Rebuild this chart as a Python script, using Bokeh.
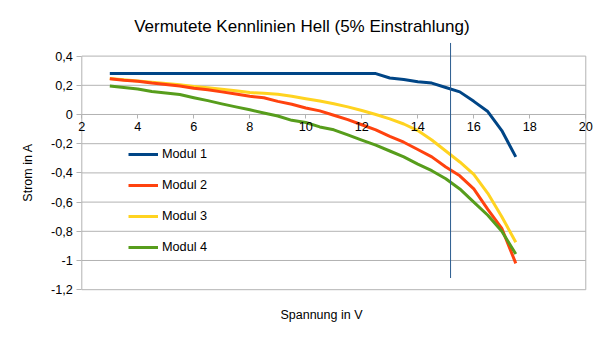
from bokeh.plotting import figure
from bokeh.models import (Range1d, FixedTicker, CustomJSTickFormatter, Legend, LegendItem, Label)
from bokeh.embed import file_html
from bokeh.resources import INLINE
import math

# ---- data ----
spannung = [3, 3.5, 4, 4.5, 5, 5.5, 6, 6.5, 7, 7.5, 8, 8.5, 9, 9.5, 10,
            10.5, 11, 11.5, 12, 12.5, 13, 13.5, 14, 14.5, 15, 15.5, 16, 16.5, 17, 17.5]
modul1 = [0.28, 0.28, 0.28, 0.28, 0.28, 0.28, 0.28, 0.28, 0.28, 0.28, 0.28, 0.28, 0.28, 0.28, 0.28,
          0.28, 0.28, 0.28, 0.28, 0.28, 0.25, 0.24, 0.225, 0.215, 0.185, 0.155, 0.09, 0.02, -0.11, -0.29]
modul2 = [0.245, 0.235, 0.228, 0.215, 0.205, 0.195, 0.18, 0.17, 0.155, 0.14, 0.125, 0.115, 0.09, 0.07, 0.045,
          0.025, -0.005, -0.035, -0.07, -0.105, -0.15, -0.19, -0.24, -0.29, -0.36, -0.42, -0.51, -0.65, -0.78, -1.02]
modul3 = [0.247, 0.238, 0.23, 0.221, 0.212, 0.203, 0.192, 0.183, 0.173, 0.163, 0.15, 0.145, 0.138, 0.125, 0.108,
          0.092, 0.073, 0.052, 0.027, 0.0, -0.03, -0.065, -0.11, -0.175, -0.25, -0.325, -0.41, -0.54, -0.7, -0.875]
modul4 = [0.195, 0.185, 0.175, 0.158, 0.148, 0.137, 0.115, 0.095, 0.073, 0.052, 0.032, 0.01, -0.01, -0.04, -0.055,
          -0.085, -0.105, -0.14, -0.175, -0.21, -0.25, -0.29, -0.34, -0.385, -0.44, -0.51, -0.6, -0.69, -0.8, -0.955]
series_names = ["Modul 1", "Modul 2", "Modul 3", "Modul 4"]
series_colors = ["#004586", "#ff420e", "#ffd320", "#579d1c"]
marker_x = 15.17
marker_y = [0.49, -1.12]
x_ticks = [2, 4, 6, 8, 10, 12, 14, 16, 18, 20]
y_ticks = [-1.2, -1.0, -0.8, -0.6, -0.4, -0.2, 0.0, 0.2, 0.4]

title_text = "Vermutete Kennlinien Hell (5% Einstrahlung)"
x_title = "Spannung in V"
y_title = "Strom in A"

FONT = "Liberation Sans"
GRID = "#b3b3b3"

# The frame covers the whole canvas; axes are pinned inside it.
p = figure(width=605, height=341, output_backend="svg", toolbar_location=None,
           x_range=Range1d(-0.904, 20.704), y_range=Range1d(-1.5548, 0.7808),
           min_border=0)
p.title.text = ""
p.title.visible = False
p.outline_line_color = None
p.background_fill_color = "white"
p.border_fill_color = "white"
p.xgrid.visible = False
p.ygrid.visible = False

x0, x1 = x_ticks[0], x_ticks[-1]
ylo, yhi = y_ticks[0], y_ticks[-1]

# horizontal gridlines
p.segment(x0=[x0] * len(y_ticks), y0=y_ticks, x1=[x1] * len(y_ticks), y1=y_ticks,
          line_color=GRID, line_width=1)
# left and right borders
p.segment(x0=[x0, x1], y0=[ylo, ylo], x1=[x0, x1], y1=[yhi, yhi],
          line_color=GRID, line_width=1)

# y axis at x = 2
p.yaxis.fixed_location = x0
p.yaxis.ticker = FixedTicker(ticks=y_ticks)
p.yaxis.formatter = CustomJSTickFormatter(code="""
var s = (Math.round(tick*10)/10).toString();
return s.replace('.', ',');
""")
p.yaxis.axis_line_color = None
p.yaxis.major_tick_line_color = GRID
p.yaxis.major_tick_out = 5
p.yaxis.major_tick_in = 0
p.yaxis.minor_tick_line_color = None
p.yaxis.major_label_standoff = 4
p.yaxis.major_label_text_font = FONT
p.yaxis.major_label_text_font_size = "12.7px"
p.yaxis.major_label_text_color = "black"

# x axis crossing at y = 0
p.xaxis.fixed_location = 0
p.xaxis.ticker = FixedTicker(ticks=x_ticks)
p.xaxis.axis_line_color = None
p.xaxis.major_tick_line_color = GRID
p.xaxis.major_tick_out = 4
p.xaxis.major_tick_in = 0
p.xaxis.minor_tick_line_color = None
p.xaxis.major_label_standoff = 4
p.xaxis.major_label_text_font = FONT
p.xaxis.major_label_text_font_size = "12.7px"
p.xaxis.major_label_text_color = "black"

# series
renderers = {}
data = {"Modul 1": modul1, "Modul 2": modul2, "Modul 3": modul3, "Modul 4": modul4}
order = ["Modul 1", "Modul 3", "Modul 2", "Modul 4"]
for name in order:
    c = series_colors[series_names.index(name)]
    renderers[name] = p.line(spannung, data[name], line_color=c, line_width=3, line_join="round")

# vertical marker line
p.segment(x0=[marker_x], y0=[marker_y[0]], x1=[marker_x], y1=[marker_y[1]],
          line_color="#2b5c8f", line_width=1)

legend = Legend(items=[LegendItem(label=n, renderers=[renderers[n]]) for n in series_names],
                location=(128, 84), orientation="vertical",
                glyph_width=30, glyph_height=20, label_height=20, spacing=11,
                label_standoff=4, padding=0, margin=0,
                border_line_color=None, background_fill_alpha=0,
                label_text_font=FONT, label_text_font_size="12.7px", label_text_color="black")
p.add_layout(legend, "center")

p.add_layout(Label(x=9.86, y=0.603, text=title_text, text_align="center", text_baseline="middle",
                   text_font=FONT, text_font_size="17px", text_color="black"))
p.add_layout(Label(x=10.56, y=-1.37, text=x_title, text_align="center", text_baseline="middle",
                   text_font=FONT, text_font_size="12.5px", text_color="black"))
p.add_layout(Label(x=0.096, y=-0.397, text=y_title, text_align="center", text_baseline="middle",
                   angle=math.pi / 2, text_font=FONT, text_font_size="12.5px", text_color="black"))

open("out.html", "w").write(file_html(p, INLINE))
